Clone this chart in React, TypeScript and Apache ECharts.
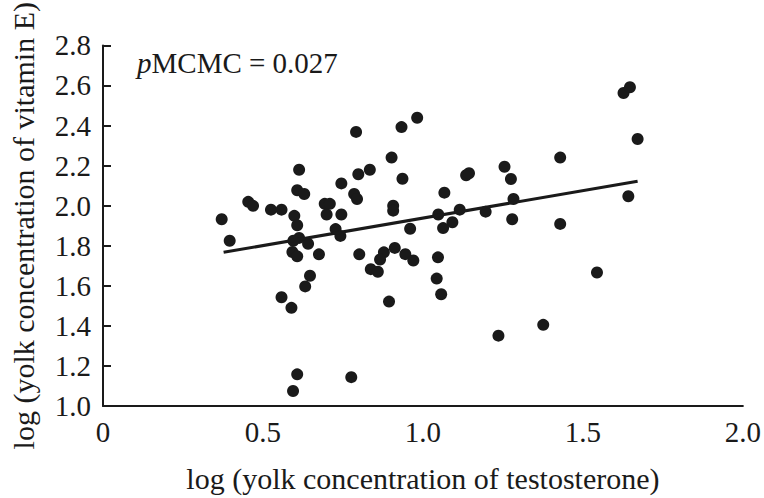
import React, { useEffect, useRef } from "react";
import * as echarts from "echarts";

const xTestosterone = [
  0.371, 0.396, 0.454, 0.469, 0.525, 0.558, 0.598, 0.607, 0.613, 0.607,
  0.629, 0.693, 0.709, 0.699, 0.745, 0.745, 0.727, 0.742, 0.791, 0.785,
  0.794, 0.798, 0.834, 0.613, 0.595, 0.641, 0.592, 0.607, 0.675, 0.647,
  0.632, 0.558, 0.589, 0.607, 0.594, 0.776, 0.801, 0.933, 0.982, 0.902,
  0.936, 0.907, 0.907, 1.067, 1.135, 1.144, 1.048, 1.115, 1.092, 1.063,
  0.960, 0.878, 0.866, 0.837, 0.859, 0.912, 0.945, 0.970, 1.047, 1.043,
  1.057, 0.894, 1.255, 1.275, 1.429, 1.283, 1.196, 1.279, 1.429, 1.627,
  1.647, 1.671, 1.642, 1.544, 1.376, 1.236,
];
const yVitaminE = [
  1.932, 1.825, 2.019, 1.999, 1.980, 1.980, 1.949, 1.902, 2.179, 2.077,
  2.058, 2.009, 2.009, 1.956, 2.111, 1.956, 1.883, 1.849, 2.368, 2.058,
  2.033, 2.157, 2.179, 1.839, 1.825, 1.810, 1.769, 1.747, 1.757, 1.650,
  1.597, 1.543, 1.490, 1.158, 1.075, 1.144, 1.757, 2.392, 2.439, 2.240,
  2.134, 2.000, 1.975, 2.065, 2.152, 2.162, 1.956, 1.980, 1.917, 1.888,
  1.885, 1.767, 1.731, 1.683, 1.670, 1.789, 1.758, 1.726, 1.742, 1.636,
  1.558, 1.521, 2.194, 2.133, 2.240, 2.033, 1.970, 1.932, 1.909, 2.562,
  2.591, 2.333, 2.047, 1.666, 1.405, 1.351,
];
const fitX = [0.377, 1.671];
const fitY = [1.767, 2.122];

const xTitle = "log (yolk concentration of testosterone)";
const yTitle = "log (yolk concentration of vitamin E)";
const annotation = "{i|p}MCMC = 0.027";

const FONT = "'Liberation Serif', 'DejaVu Serif', serif";
const INK = "#1a1a1a";

export default function App() {
  const ref = useRef<HTMLDivElement>(null);
  useEffect(() => {
    document.body.style.margin = "0";
    if (!ref.current) return;
    const chart = echarts.init(ref.current, null, { renderer: "svg" });
    const points = xTestosterone.map((x, i) => [x, yVitaminE[i]]);
    const fit = fitX.map((x, i) => [x, fitY[i]]);
    chart.setOption({
      animation: false,
      backgroundColor: "#ffffff",
      textStyle: { fontFamily: FONT },
      grid: { left: 97, right: 15, top: 37, bottom: 90, containLabel: false },
      xAxis: {
        type: "value",
        min: 0,
        max: 2,
        interval: 0.5,
        name: xTitle,
        nameLocation: "middle",
        nameGap: 57,
        nameTextStyle: { fontFamily: FONT, fontSize: 30, color: INK },
        axisLine: { show: true, lineStyle: { color: INK, width: 2 } },
        axisTick: { show: false },
        splitLine: { show: false },
        axisLabel: {
          fontFamily: FONT,
          fontSize: 29,
          color: INK,
          margin: 11,
          formatter: (v: number) => (v === 0 ? "0" : v.toFixed(1)),
        },
      },
      yAxis: {
        type: "value",
        min: 1.0,
        max: 2.8,
        interval: 0.2,
        name: yTitle,
        nameLocation: "middle",
        nameGap: 65,
        nameTextStyle: { fontFamily: FONT, fontSize: 30, color: INK },
        axisLine: { show: true, lineStyle: { color: INK, width: 2 } },
        axisTick: { show: true, inside: true, length: 8, lineStyle: { color: INK, width: 2 } },
        splitLine: { show: false },
        axisLabel: {
          fontFamily: FONT,
          fontSize: 29,
          color: INK,
          margin: 12,
          formatter: (v: number) => v.toFixed(1),
        },
      },
      graphic: [
        {
          type: "text",
          left: 137,
          top: 48,
          style: {
            text: annotation,
            fontFamily: FONT,
            fontSize: 29,
            fill: INK,
            rich: {
              i: { fontFamily: FONT, fontSize: 29, fontStyle: "italic", fill: INK },
            },
          },
        },
      ],
      series: [
        {
          type: "scatter",
          data: points,
          symbol: "circle",
          symbolSize: 12,
          itemStyle: { color: INK, opacity: 1 },
          z: 3,
        },
        {
          type: "line",
          data: fit,
          showSymbol: false,
          symbol: "none",
          lineStyle: { color: INK, width: 3 },
          z: 4,
        },
      ],
    });
    return () => chart.dispose();
  }, []);
  return <div ref={ref} style={{ width: 764, height: 498 }} />;
}
